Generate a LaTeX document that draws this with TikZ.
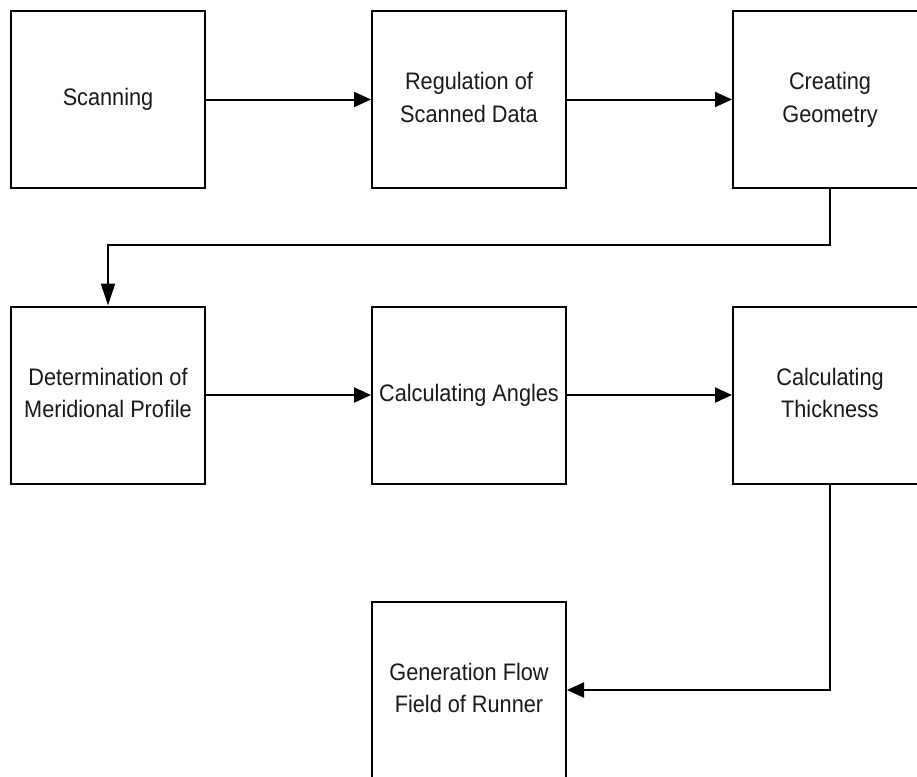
\documentclass[tikz,border=0pt]{standalone}
\usepackage{fontspec}
\setmainfont{Liberation Sans}
\usetikzlibrary{arrows.meta}

% two-line labels, slightly tall letterforms
\newcommand{\boxtext}[1]{\scalebox{1}[1.1]{\begin{tabular}{@{}c@{}}#1\end{tabular}}}

\begin{document}
\begin{tikzpicture}[x=1pt,y=-1pt,
  stepbox/.style={draw=black, line width=2pt, fill=white,
    minimum width=194pt, minimum height=177pt, inner sep=0pt,
    font=\fontsize{21.7}{29.5}\selectfont, text=black!90},
  flow/.style={draw=black, line width=2pt,
    -{Triangle[length=17pt,width=15pt]}},
  flowdown/.style={draw=black, line width=2pt,
    -{Triangle[length=22pt,width=14pt]}}]

\clip (0,0) rectangle (917,776);
\fill[white] (0,0) rectangle (917,776);

% first row
\node[stepbox] (scan) at (108,99.5) {\boxtext{Scanning}};
\node[stepbox] (reg)  at (469,99.5) {\boxtext{Regulation of\\Scanned Data}};
\node[stepbox] (geom) at (830,99.5) {\boxtext{Creating\\Geometry}};

% second row
\node[stepbox] (merid) at (108,395) {\boxtext{Determination of\\Meridional Profile}};
\node[stepbox] (ang)   at (469,395) {\boxtext{Calculating Angles}};
\node[stepbox] (thick) at (830,395) {\boxtext{Calculating\\Thickness}};

% last step
\node[stepbox] (gen) at (469,690) {\boxtext{Generation Flow\\Field of Runner}};

% connectors
\draw[flow] (scan.east) -- (reg.west);
\draw[flow] (reg.east) -- (geom.west);

\coordinate (turn) at (830,245);
\draw[flowdown] (geom.south) -- (turn) -| (merid.north);

\draw[flow] (merid.east) -- (ang.west);
\draw[flow] (ang.east) -- (thick.west);

\draw[flow] (thick.south) |- (gen.east);
\end{tikzpicture}
\end{document}
